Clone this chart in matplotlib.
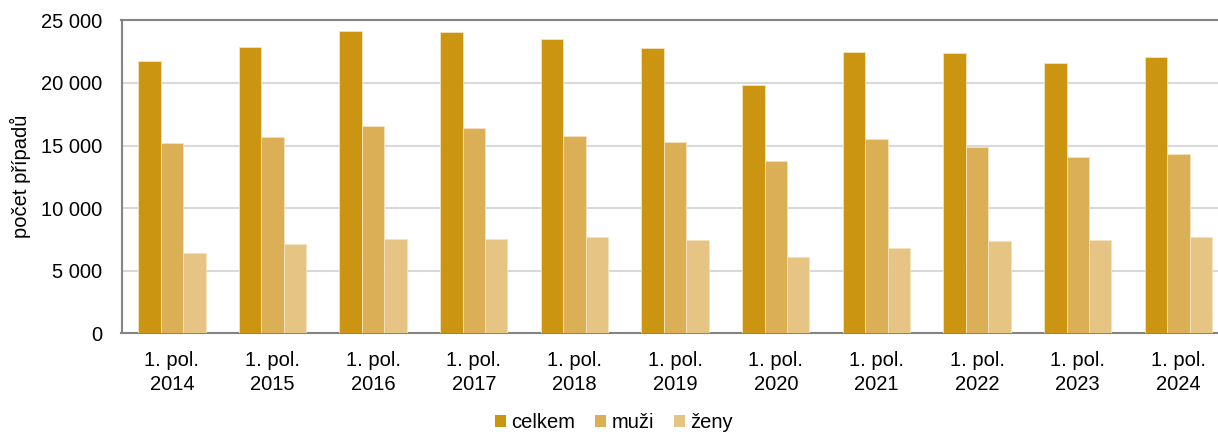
import numpy as np
import matplotlib
matplotlib.use("Agg")
import matplotlib.pyplot as plt
from matplotlib.patches import Patch
from matplotlib.ticker import FuncFormatter

plt.rcParams['font.family'] = ['Liberation Sans', 'DejaVu Sans']

# data
years = ['2014', '2015', '2016', '2017', '2018', '2019', '2020', '2021', '2022', '2023', '2024']
labels = ['1. pol.\n' + y for y in years]
celkem = [21730, 22850, 24150, 24040, 23510, 22790, 19840, 22440, 22360, 21570, 22070]
muzi = [15200, 15650, 16560, 16420, 15760, 15280, 13740, 15550, 14910, 14060, 14300]
zeny = [6420, 7110, 7510, 7560, 7670, 7460, 6070, 6840, 7370, 7460, 7690]

series_names = ['celkem', 'muži', 'ženy']
colors = ['#CC9511', '#DBAF56', '#E6C484']

W, H = 1218, 432
fs = 14.5
fig = plt.figure(figsize=(W / 100, H / 100), dpi=100)
# right edge of the plot area runs past the picture, as in the reference
ax = fig.add_axes([121.5 / W, (H - 333.3) / H, (1228.8 - 121.5) / W, 313 / H])

x = np.arange(len(years))
bw = 0.223
for i, vals in enumerate([celkem, muzi, zeny]):
    ax.bar(x + (i - 1) * bw, vals, width=bw, color=colors[i],
           edgecolor='#F3E3BF', linewidth=0.6, zorder=3)

ax.set_xlim(-0.5, len(years) - 0.5)
ax.set_ylim(0, 25000)
ax.set_yticks(np.arange(0, 25001, 5000))
ax.yaxis.set_major_formatter(FuncFormatter(lambda v, p: f'{int(v):,}'.replace(',', ' ')))
ax.set_xticks(x)
ax.set_xticklabels(labels, linespacing=1.3)
ax.tick_params(axis='both', length=0, labelsize=fs, colors='black')
ax.tick_params(axis='y', pad=14)
ax.tick_params(axis='x', pad=13)
ax.grid(axis='y', color='#D9D9D9', linewidth=1.5, zorder=0)
for side in ['left', 'bottom', 'top']:
    ax.spines[side].set_color('#848484')
    ax.spines[side].set_linewidth(1.5)
ax.spines['right'].set_visible(False)
ax.set_ylabel('počet případů', fontsize=fs, labelpad=7)

handles = [Patch(facecolor=c, edgecolor='none') for c in colors]
fig.legend(handles, series_names, loc='center', bbox_to_anchor=(614 / W, (H - 422.5) / H),
           ncol=3, frameon=False, fontsize=fs, handlelength=0.55, handleheight=0.55,
           handletextpad=0.25, columnspacing=1.0, borderpad=0)

fig.savefig('out.png', dpi=100)
